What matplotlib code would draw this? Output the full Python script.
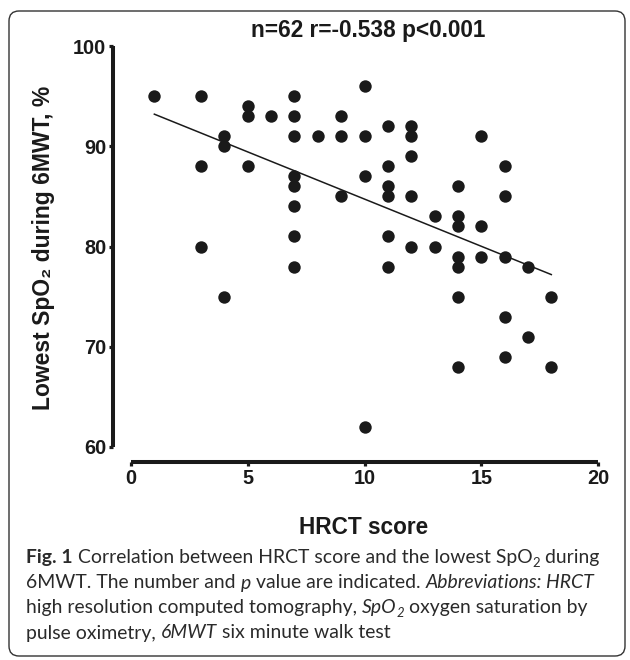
import matplotlib
matplotlib.use("Agg")
import matplotlib.pyplot as plt
from matplotlib.patches import FancyBboxPatch
from matplotlib.transforms import IdentityTransform

# ---------------- data ----------------
hrct_score = [1,
              3, 3, 3,
              4, 4, 4,
              5, 5, 5,
              6,
              7, 7, 7, 7, 7, 7, 7, 7,
              8,
              9, 9, 9,
              10, 10, 10, 10,
              11, 11, 11, 11, 11, 11,
              12, 12, 12, 12, 12,
              13, 13,
              14, 14, 14, 14, 14, 14, 14,
              15, 15, 15,
              16, 16, 16, 16, 16,
              17, 17,
              18, 18]
lowest_spo2 = [95,
               95, 88, 80,
               91, 90, 75,
               94, 93, 88,
               93,
               95, 93, 91, 87, 86, 84, 81, 78,
               91,
               93, 91, 85,
               96, 91, 87, 62,
               92, 88, 86, 85, 81, 78,
               92, 91, 89, 85, 80,
               83, 80,
               86, 83, 82, 79, 78, 75, 68,
               91, 82, 79,
               88, 85, 79, 73, 69,
               78, 71,
               75, 68]
fit_x = [1, 18]
fit_y = [93.2, 77.2]
x_ticks = [0, 5, 10, 15, 20]
y_ticks = [60, 70, 80, 90, 100]
title_text = "n=62 r=-0.538 p<0.001"
x_label = "HRCT score"
y_label = "Lowest SpO\u2082 during 6MWT, %"

W, H = 630, 660
INK = "#1a1a1a"
AX_FONT = ["Liberation Sans", "DejaVu Sans"]
CAP_FONT = ["Lato", "DejaVu Sans"]

fig = plt.figure(figsize=(W / 100, H / 100), dpi=100)
fig.patch.set_facecolor("white")

# axes: x 0..20 -> px 131..598 ; y 60..100 -> px 447..46 (from top)
ax = fig.add_axes([131 / W, (H - 447) / H, (598 - 131) / W, (447 - 46) / H])
ax.scatter(hrct_score, lowest_spo2, s=80, color=INK, linewidths=0, zorder=3, clip_on=False)
ax.plot(fit_x, fit_y, color=INK, lw=1.1, zorder=2)
ax.set_xlim(0, 20)
ax.set_ylim(60, 100)
ax.set_facecolor("none")

for s in ("top", "right"):
    ax.spines[s].set_visible(False)
ax.spines["left"].set_position(("outward", 13))
ax.spines["bottom"].set_position(("outward", 11))
ax.spines["left"].set_bounds(60, 100)
ax.spines["bottom"].set_bounds(0, 20)
for s in ("left", "bottom"):
    ax.spines[s].set_linewidth(2.9)
    ax.spines[s].set_color(INK)
    ax.spines[s].set_capstyle("butt")

ax.set_xticks(x_ticks)
ax.set_yticks(y_ticks)
ax.tick_params(axis="both", length=3.2, width=2.3, color=INK, pad=1.5,
               labelsize=14.3, labelcolor=INK)
for lab in ax.get_xticklabels() + ax.get_yticklabels():
    lab.set_fontweight("bold")
    lab.set_family(AX_FONT)

def px(x, y_top):
    return x / W, 1 - y_top / H

fig.text(*px(368, 30), title_text, ha="center", va="center", fontsize=16.3,
         fontweight="bold", family=AX_FONT, color=INK)
fig.text(*px(364, 527), x_label, ha="center", va="center", fontsize=16.3,
         fontweight="bold", family=AX_FONT, color=INK)
fig.text(*px(44, 248), y_label, ha="center", va="center", rotation=90,
         fontsize=16.5, fontweight="bold", family=AX_FONT, color=INK)

# rounded border
box = FancyBboxPatch((9, 4), 616, 645, boxstyle="round,pad=0,rounding_size=10",
                     transform=IdentityTransform(), facecolor="none",
                     edgecolor="#333333", lw=1.0, zorder=0)
fig.patches.append(box)

# caption drawn as runs
caption_lines = [
    [("Fig. 1", "bold", "normal", False), (" Correlation between HRCT score and the lowest SpO", "normal", "normal", False),
     ("2", "normal", "normal", True), (" during", "normal", "normal", False)],
    [("6MWT. The number and ", "normal", "normal", False), ("p", "normal", "italic", False),
     (" value are indicated. ", "normal", "normal", False), ("Abbreviations: HRCT", "normal", "italic", False)],
    [("high resolution computed tomography, ", "normal", "normal", False), ("SpO", "normal", "italic", False),
     ("2", "normal", "italic", True), (" oxygen saturation by", "normal", "normal", False)],
    [("pulse oximetry, ", "normal", "normal", False), ("6MWT", "normal", "italic", False),
     (" six minute walk test", "normal", "normal", False)],
]
line_y = [558, 583, 608, 633]
CAP_X0, CAP_X1 = 26, 600

fig.canvas.draw()
renderer = fig.canvas.get_renderer()

def line_width(runs, size):
    tot = 0.0
    for txt, wt, st, sub in runs:
        t = fig.text(0, 0, txt, transform=IdentityTransform(),
                     fontsize=size * (0.68 if sub else 1), fontweight=wt, fontstyle=st, family=CAP_FONT)
        tot += t.get_window_extent(renderer=renderer).width
        t.remove()
    return tot

trial = 14.0
cap_size = trial * (CAP_X1 - CAP_X0) / line_width(caption_lines[0], trial)

for runs, yt in zip(caption_lines, line_y):
    x = float(CAP_X0)
    for txt, wt, st, sub in runs:
        size = cap_size * 0.68 if sub else cap_size
        yy = (H - yt) - (5 if sub else 0)
        t = fig.text(x, yy, txt, transform=IdentityTransform(), ha="left", va="center",
                     fontsize=size, fontweight=wt, fontstyle=st, family=CAP_FONT, color="#2a2a2a")
        x += t.get_window_extent(renderer=renderer).width

fig.savefig("out.png", dpi=100, facecolor="white")
